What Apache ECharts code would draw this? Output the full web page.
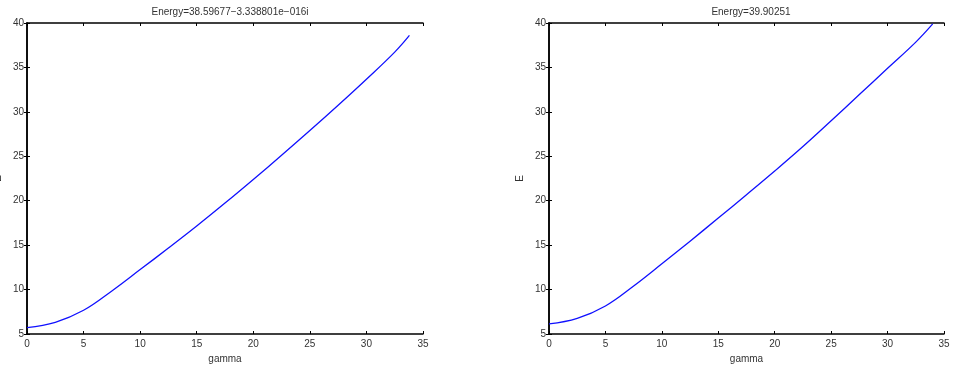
<!DOCTYPE html>
<html>
<head>
<meta charset="utf-8">
<script src="https://cdn.jsdelivr.net/npm/echarts@6/dist/echarts.min.js"></script>
<style>
  html, body { margin: 0; padding: 0; background: #fff; }
  #chart { width: 953px; height: 375px; }
</style>
</head>
<body>
<div id="chart"></div>
<script>
// left panel: E vs gamma
const gammaL = [0, 2.5, 5, 7.5, 10, 12.5, 15, 17.5, 20, 22.5, 25, 27.5, 30, 32.5, 33.8];
const energyL = [5.72, 6.32, 7.67, 9.85, 12.25, 14.67, 17.15, 19.73, 22.39, 25.11, 27.89, 30.74, 33.67, 36.72, 38.6];

// right panel
const gammaR = [0, 2.5, 5, 7.5, 10, 12.5, 15, 17.5, 20, 22.5, 25, 27.5, 30, 32.5, 34.0];
const energyR = [6.13, 6.75, 8.15, 10.4, 12.9, 15.45, 18.05, 20.68, 23.35, 26.1, 29.0, 31.95, 34.9, 37.85, 39.9];

const titles = ['Energy=38.59677\u22123.338801e\u2212016i', 'Energy=39.90251'];

const font = 'Liberation Sans, Arial, sans-serif';
const txt = '#333';

let myChart = echarts.init(document.getElementById('chart'));

function pairs(xs, ys) {
    return xs.map((x, i) => [x, ys[i]]);
}

// main axes (bottom / left) and plain box axes (top / right)
function xAxes(gi) {
    return [
        {
            gridIndex: gi, type: 'value', min: 0, max: 35, interval: 5,
            name: 'gamma', nameLocation: 'middle', nameGap: 20,
            nameTextStyle: { color: txt, fontSize: 10, fontFamily: font },
            axisLine: { lineStyle: { color: '#000', width: 1.5 } },
            axisTick: { inside: true, length: 3, lineStyle: { color: '#000' } },
            axisLabel: { margin: 5, color: txt, fontSize: 10, fontFamily: font, showMaxLabel: true },
            splitLine: { show: false }
        },
        {
            gridIndex: gi, type: 'value', position: 'top', min: 0, max: 35, interval: 5,
            axisLine: { lineStyle: { color: '#000', width: 1.5 } },
            axisTick: { inside: true, length: 3, lineStyle: { color: '#000' } },
            axisLabel: { show: false },
            splitLine: { show: false }
        }
    ];
}

function yAxes(gi) {
    return [
        {
            gridIndex: gi, type: 'value', min: 5, max: 40, interval: 5,
            name: 'E', nameLocation: 'middle', nameGap: 24, nameRotate: 90,
            nameTextStyle: { color: txt, fontSize: 10, fontFamily: font },
            axisLine: { show: true, lineStyle: { color: '#000', width: 1.5 } },
            axisTick: { show: true, inside: true, length: 3, lineStyle: { color: '#000' } },
            axisLabel: { margin: 3, color: txt, fontSize: 10, fontFamily: font },
            splitLine: { show: false }
        },
        {
            gridIndex: gi, type: 'value', position: 'right', min: 5, max: 40, interval: 5,
            axisLine: { show: true, lineStyle: { color: '#000', width: 1.5 } },
            axisTick: { show: true, inside: true, length: 3, lineStyle: { color: '#000' } },
            axisLabel: { show: false },
            splitLine: { show: false }
        }
    ];
}

let option = {
    backgroundColor: '#fff',
    animation: false,
    title: [
        { text: titles[0], left: 225, top: 2, textAlign: 'center',
          textStyle: { color: txt, fontSize: 10, fontWeight: 'normal', fontFamily: font } },
        { text: titles[1], left: 746, top: 2, textAlign: 'center',
          textStyle: { color: txt, fontSize: 10, fontWeight: 'normal', fontFamily: font } }
    ],
    grid: [
        { left: 27, right: 530, top: 23, bottom: 41, containLabel: false, outerBoundsMode: 'none' },
        { left: 549, right: 9, top: 23, bottom: 41, containLabel: false, outerBoundsMode: 'none' }
    ],
    xAxis: xAxes(0).concat(xAxes(1)),
    yAxis: yAxes(0).concat(yAxes(1)),
    series: [
        {
            type: 'line', xAxisIndex: 0, yAxisIndex: 0,
            data: pairs(gammaL, energyL), smooth: 0.4, showSymbol: false,
            lineStyle: { color: '#1010ff', width: 1.3 }
        },
        {
            type: 'line', xAxisIndex: 2, yAxisIndex: 2,
            data: pairs(gammaR, energyR), smooth: 0.4, showSymbol: false,
            lineStyle: { color: '#1010ff', width: 1.3 }
        }
    ]
};
option && myChart.setOption(option);
</script>
</body>
</html>
